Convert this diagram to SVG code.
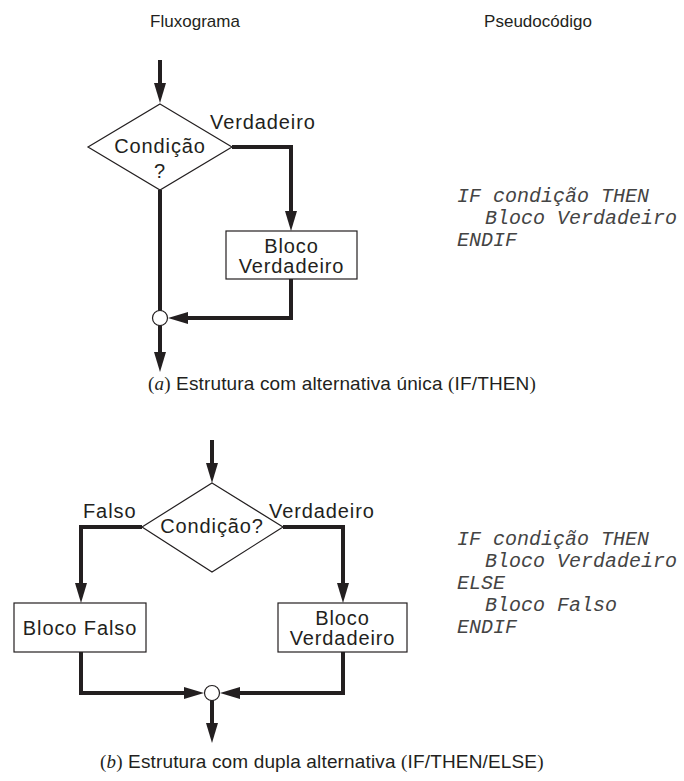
<svg xmlns="http://www.w3.org/2000/svg" width="684" height="781" viewBox="0 0 684 781">
  <defs>
    <marker id="arrow" markerUnits="userSpaceOnUse" markerWidth="20" markerHeight="12" refX="0" refY="6" orient="auto" overflow="visible">
      <path d="M0,0 L20,6 L0,12 Z" fill="#231f20"/>
    </marker>
    <style>
      .lbl { font-family: "Liberation Sans", Arial, sans-serif; font-size: 20px; letter-spacing: 0.9px; fill: #231f20; }
      .head { font-family: "Liberation Sans", Arial, sans-serif; font-size: 17px; fill: #231f20; text-anchor: middle; }
      .cap { font-family: "Liberation Sans", Arial, sans-serif; font-size: 19px; letter-spacing: 0.15px; fill: #231f20; }
      .mid { text-anchor: middle; }
      .code { font-family: "Liberation Mono", "DejaVu Sans Mono", monospace; font-style: italic; font-size: 20px; fill: #444444; }
      .serif { font-family: "Liberation Serif", "Times New Roman", serif; }
      .shape { fill: #ffffff; stroke: #231f20; stroke-width: 1.2; }
      .flow { fill: none; stroke: #231f20; stroke-width: 4; stroke-linejoin: miter; }
      .arr { marker-end: url(#arrow); }
    </style>
  </defs>
  <rect width="684" height="781" fill="#ffffff"/>

  <!-- column headings -->
  <text class="head" x="195" y="27">Fluxograma</text>
  <text class="head" x="538" y="27">Pseudocódigo</text>

  <!-- (a) single alternative -->
  <g id="a-connectors">
    <path class="flow arr" d="M160,60 V83"/>
    <path class="flow arr" d="M232,147 H291 V211"/>
    <path class="flow arr" d="M291,279 V318 H188"/>
    <path class="flow" d="M160,190 V311"/>
    <path class="flow arr" d="M160,325 V352"/>
  </g>
  <g id="a-decision">
    <polygon class="shape" points="160,104 232,147 160,190 88,147"/>
    <text class="lbl mid" x="160" y="153">Condição</text>
    <text class="lbl mid" x="160" y="178">?</text>
  </g>
  <g id="a-true-label">
    <text class="lbl" x="210" y="129">Verdadeiro</text>
  </g>
  <g id="a-true-block">
    <rect class="shape" x="226" y="231" width="131" height="48"/>
    <text class="lbl mid" x="291.5" y="253">Bloco</text>
    <text class="lbl mid" x="291.5" y="273">Verdadeiro</text>
  </g>
  <g id="a-merge">
    <circle class="shape" cx="160" cy="318" r="7.5"/>
  </g>
  <g id="a-code">
    <text class="code" x="457" y="202">IF condição THEN</text>
    <text class="code" x="485" y="224">Bloco Verdadeiro</text>
    <text class="code" x="457" y="246">ENDIF</text>
  </g>
  <text class="cap" x="148" y="390"><tspan class="serif">(<tspan font-style="italic">a</tspan>)</tspan> Estrutura com alternativa única <tspan class="serif">(</tspan>IF/THEN<tspan class="serif">)</tspan></text>

  <!-- (b) double alternative -->
  <g id="b-connectors">
    <path class="flow arr" d="M212,440 V463"/>
    <path class="flow arr" d="M142,527 H81 V583"/>
    <path class="flow arr" d="M283,527 H343 V583"/>
    <path class="flow arr" d="M81,652 V693 H184"/>
    <path class="flow arr" d="M343,652 V693 H240"/>
    <path class="flow arr" d="M212,700 V723"/>
  </g>
  <g id="b-decision">
    <polygon class="shape" points="212,483 283,527 212,572 142,527"/>
    <text class="lbl mid" x="212" y="533">Condição?</text>
  </g>
  <g id="b-labels">
    <text class="lbl" x="83" y="518">Falso</text>
    <text class="lbl" x="269" y="518">Verdadeiro</text>
  </g>
  <g id="b-false-block">
    <rect class="shape" x="14" y="603" width="132" height="49"/>
    <text class="lbl mid" x="80" y="635">Bloco Falso</text>
  </g>
  <g id="b-true-block">
    <rect class="shape" x="278" y="603" width="129" height="49"/>
    <text class="lbl mid" x="342.5" y="625">Bloco</text>
    <text class="lbl mid" x="342.5" y="645">Verdadeiro</text>
  </g>
  <g id="b-merge">
    <circle class="shape" cx="212" cy="693" r="7.5"/>
  </g>
  <g id="b-code">
    <text class="code" x="457" y="545">IF condição THEN</text>
    <text class="code" x="485" y="567">Bloco Verdadeiro</text>
    <text class="code" x="457" y="589">ELSE</text>
    <text class="code" x="485" y="611">Bloco Falso</text>
    <text class="code" x="457" y="633">ENDIF</text>
  </g>
  <text class="cap" x="100" y="768"><tspan class="serif">(<tspan font-style="italic">b</tspan>)</tspan> Estrutura com dupla alternativa <tspan class="serif">(</tspan>IF/THEN/ELSE<tspan class="serif">)</tspan></text>
</svg>
